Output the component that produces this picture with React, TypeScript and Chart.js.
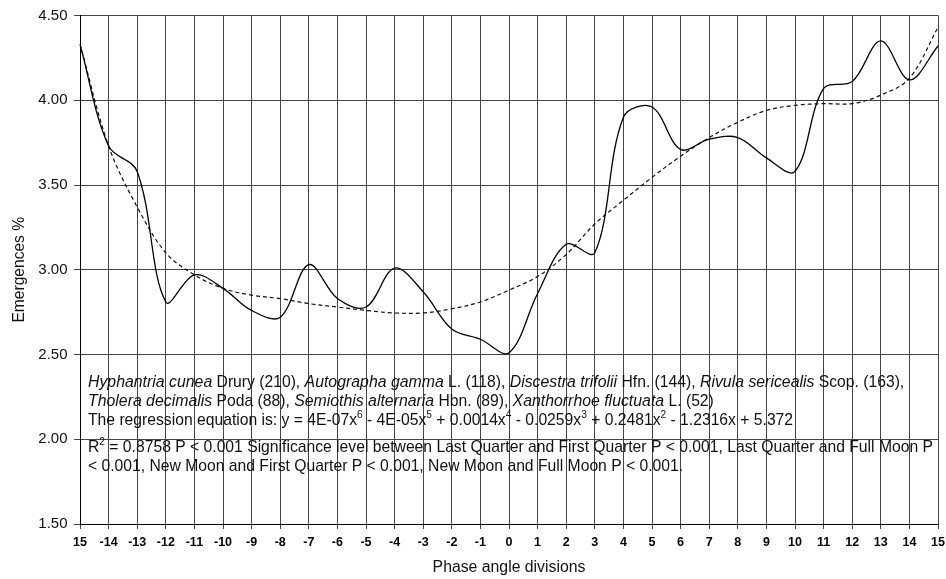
import { useEffect, useRef } from "react";
import { Chart, registerables } from "chart.js";

Chart.register(...registerables);

// Phase angle divisions, from Full Moon (15) through New Moon (0) back to Full Moon (15)
const phaseLabels = [
  "15", "-14", "-13", "-12", "-11", "-10", "-9", "-8", "-7", "-6", "-5", "-4", "-3", "-2", "-1",
  "0", "1", "2", "3", "4", "5", "6", "7", "8", "9", "10", "11", "12", "13", "14", "15",
];

// Observed emergences (%) per division
const emergences = [
  4.33, 3.73, 3.58, 2.81, 2.97, 2.89, 2.76, 2.72, 3.03, 2.83, 2.78, 3.01, 2.87, 2.65, 2.59,
  2.51, 2.86, 3.15, 3.10, 3.90, 3.96, 3.71, 3.77, 3.78, 3.66, 3.58, 4.07, 4.11, 4.35, 4.12, 4.32,
];

// 6th-order polynomial trend line
const trendline = [
  4.33, 3.73, 3.37, 3.10, 2.97, 2.89, 2.85, 2.83, 2.80, 2.78, 2.76, 2.745, 2.745, 2.77, 2.81,
  2.88, 2.96, 3.09, 3.27, 3.41, 3.545, 3.67, 3.78, 3.87, 3.94, 3.97, 3.98, 3.98, 4.03, 4.13, 4.43,
];

const yMin = 1.5;
const yMax = 4.5;
const yStep = 0.5;

type Seg = { t: string; i?: boolean; sup?: boolean };

const noteLines: Seg[][] = [
  [
    { t: "Hyphantria cunea", i: true }, { t: " Drury (210), " },
    { t: "Autographa gamma", i: true }, { t: " L. (118), " },
    { t: "Discestra trifolii", i: true }, { t: " Hfn. (144), " },
    { t: "Rivula sericealis", i: true }, { t: " Scop. (163)," },
  ],
  [
    { t: "Tholera decimalis", i: true }, { t: " Poda (88), " },
    { t: "Semiothis alternaria", i: true }, { t: " Hbn. (89), " },
    { t: "Xanthorrhoe fluctuata", i: true }, { t: " L. (52)" },
  ],
  [
    { t: "The regression equation is: y = 4E-07x" }, { t: "6", sup: true },
    { t: " - 4E-05x" }, { t: "5", sup: true },
    { t: " + 0.0014x" }, { t: "4", sup: true },
    { t: " - 0.0259x" }, { t: "3", sup: true },
    { t: " + 0.2481x" }, { t: "2", sup: true },
    { t: " - 1.2316x + 5.372" },
  ],
  [
    { t: "R" }, { t: "2", sup: true },
    { t: " = 0.8758 P < 0.001 Significance level between Last Quarter and First Quarter P < 0.001, Last Quarter and Full Moon P" },
  ],
  [{ t: "< 0.001, New Moon and First Quarter P < 0.001, New Moon and Full Moon P < 0.001." }],
];

const FONT = "'Liberation Sans', Arial, sans-serif";
const NOTE_SIZE = 15.7;
// vertical offsets of the note lines from the top of the plot area
const noteOffsets = [367, 386, 405, 432, 451];

const notePlugin = {
  id: "noteText",
  afterDraw(chart: Chart) {
    const { ctx, chartArea } = chart;
    ctx.save();
    ctx.fillStyle = "#111";
    ctx.textBaseline = "middle";
    ctx.textAlign = "left";
    noteLines.forEach((line, li) => {
      let x = chartArea.left + 8;
      const y = chartArea.top + noteOffsets[li];
      line.forEach((s) => {
        const size = s.sup ? NOTE_SIZE * 0.65 : s.i ? NOTE_SIZE * 1.01 : NOTE_SIZE;
        ctx.font = `${s.i ? "italic " : ""}${size}px ${FONT}`;
        ctx.fillText(s.t, x, s.sup ? y - 5 : y);
        x += ctx.measureText(s.t).width;
      });
    });
    ctx.restore();
  },
};

export default function App() {
  const canvasRef = useRef<HTMLCanvasElement | null>(null);

  useEffect(() => {
    if (!canvasRef.current) return;
    const chart = new Chart(canvasRef.current, {
      type: "line",
      data: {
        labels: phaseLabels,
        datasets: [
          {
            label: "Emergences",
            data: emergences,
            borderColor: "#000",
            borderWidth: 1.3,
            pointRadius: 0,
            tension: 0.35,
            fill: false,
          },
          {
            label: "Poly. trend",
            data: trendline,
            borderColor: "#111",
            borderWidth: 1.2,
            borderDash: [4, 3],
            pointRadius: 0,
            tension: 0.35,
            fill: false,
          },
        ],
      },
      options: {
        responsive: false,
        animation: false,
        layout: { padding: { top: 14, right: 0, left: 0, bottom: 0 } },
        plugins: {
          legend: { display: false },
          tooltip: { enabled: false },
        },
        scales: {
          x: {
            type: "category",
            offset: false,
            afterFit: (s: any) => {
              s.height = 55;
              s.paddingRight = 8;
              s.paddingLeft = 0;
            },
            grid: {
              color: "#454545",
              lineWidth: 1,
              tickLength: 5,
              drawTicks: true,
            },
            border: { color: "#000", width: 1 },
            ticks: {
              autoSkip: false,
              maxRotation: 0,
              padding: 6.5,
              color: "#000",
              font: { family: FONT, size: 12.5, weight: "bold" },
            },
            title: {
              display: true,
              text: "Phase angle divisions",
              color: "#111",
              font: { family: FONT, size: 15.8 },
              padding: { top: 0, bottom: 2 },
            },
          },
          y: {
            min: yMin,
            max: yMax,
            afterFit: (s: any) => {
              s.width = 80;
            },
            grid: {
              color: "#454545",
              lineWidth: 1,
              tickLength: 6,
            },
            border: { color: "#000", width: 1 },
            ticks: {
              stepSize: yStep,
              padding: 6.5,
              color: "#111",
              font: { family: FONT, size: 15 },
              callback: (v: any) => Number(v).toFixed(2),
            },
            title: {
              display: true,
              text: "Emergences %",
              color: "#111",
              font: { family: FONT, size: 15.6 },
              padding: { top: 10, bottom: 0 },
            },
          },
        },
      },
      plugins: [notePlugin],
    });
    return () => chart.destroy();
  }, []);

  return (
    <div style={{ position: "fixed", left: 0, top: 0, width: 946, height: 579, background: "#fff" }}>
      <canvas ref={canvasRef} width={946} height={579} />
    </div>
  );
}
